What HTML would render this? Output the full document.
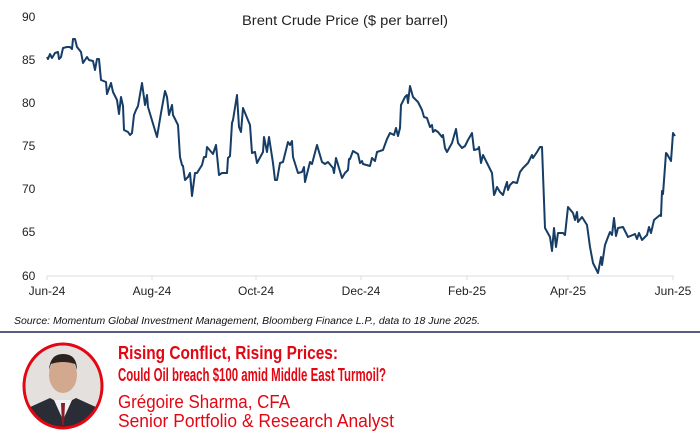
<!DOCTYPE html>
<html><head><meta charset="utf-8"><style>
html,body{margin:0;padding:0;background:#fff;}
svg{display:block;}
text{font-family:"Liberation Sans",sans-serif;}
</style></head><body>
<svg width="700" height="435" viewBox="0 0 700 435" xmlns="http://www.w3.org/2000/svg">
<rect width="700" height="435" fill="#fff"/>
<text x="345" y="25" font-size="13.5" text-anchor="middle" fill="#222" textLength="206" lengthAdjust="spacingAndGlyphs">Brent Crude Price ($ per barrel)</text>
<g font-size="12" fill="#222">
<text x="22" y="21">90</text>
<text x="22" y="64">85</text>
<text x="22" y="107">80</text>
<text x="22" y="150">75</text>
<text x="22" y="193">70</text>
<text x="22" y="236">65</text>
<text x="22" y="280">60</text>
</g>
<line x1="47" y1="276" x2="674" y2="276" stroke="#ddd" stroke-width="1"/>
<g stroke="#ddd" stroke-width="1">
<line x1="47" y1="276" x2="47" y2="280"/><line x1="152" y1="276" x2="152" y2="280"/><line x1="256" y1="276" x2="256" y2="280"/><line x1="361" y1="276" x2="361" y2="280"/><line x1="467" y1="276" x2="467" y2="280"/><line x1="568" y1="276" x2="568" y2="280"/><line x1="673" y1="276" x2="673" y2="280"/>
</g>
<g font-size="12" fill="#222" text-anchor="middle">
<text x="47" y="295">Jun-24</text><text x="152" y="295">Aug-24</text><text x="256" y="295">Oct-24</text><text x="361" y="295">Dec-24</text><text x="467" y="295">Feb-25</text><text x="568" y="295">Apr-25</text><text x="673" y="295">Jun-25</text>
</g>
<polyline fill="none" stroke="#163d66" stroke-width="2" stroke-linejoin="round" points="47,57 48,59 50,54 52,58 55,53 58,52 59,59 61,57 63,48 67,47 70,47 72,49 73,39 75,39 77,47 81,52 83,63 87,57 89,60 93,61 95,70 97,59 99,59 101,80 106,82 107,94 111,83 113,92 117,100 119,114 121,97 123,106 124,130 128,132 130,135 132,133 134,115 136,110 138,106 142,83 145,105 147,95 148,107 157,137 161,113 165,91 167,97 169,115 172,105 173,115 178,125 180,157 182,165 183,166 185,180 188,177 190,173 192,196 195,173 197,173 202,165 204,157 206,157 207,147 213,154 216,145 219,175 222,173 227,173 228,158 230,156 232,123 233,120 237,95 239,127 241,132 243,108 250,125 252,153 255,152 257,163 263,152 264,137 267,152 269,137 273,163 275,180 277,180 280,163 283,162 288,142 290,145 292,141 293,157 298,173 302,172 304,167 305,182 310,162 312,164 317,145 322,162 325,164 328,162 333,168 334,173 336,158 339,168 342,178 345,173 348,170 349,159 350,159 353,151 358,154 360,163 362,161 363,164 370,166 372,158 375,161 377,152 383,150 387,139 390,133 394,135 396,128 398,136 400,128 401,105 405,97 407,95 408,103 410,86 413,97 418,102 422,110 424,117 427,118 430,127 432,125 433,132 435,130 438,132 442,137 443,135 445,148 447,152 452,143 456,129 458,143 462,148 465,146 468,140 472,133 474,150 478,149 479,147 481,163 483,155 487,163 492,173 494,195 495,193 497,187 500,192 503,195 505,188 507,182 508,190 510,185 513,182 517,183 520,172 523,168 528,163 532,155 533,158 537,152 540,147 542,147 545,228 550,237 552,251 554,228 556,247 558,233 563,233 565,235 568,207 573,213 575,220 577,212 578,222 582,217 587,225 590,247 593,263 598,273 601,257 602,265 605,245 608,237 610,232 612,235 614,218 616,236 618,228 623,227 628,237 635,234 637,239 639,233 642,240 647,235 649,227 651,233 654,220 660,215 661,216 662,191 663,194 666,153 667,154 671,161 673,133 675,136"/>
<text x="14" y="324" font-size="10.5" font-style="italic" fill="#111" textLength="466" lengthAdjust="spacingAndGlyphs">Source: Momentum Global Investment Management, Bloomberg Finance L.P., data to 18 June 2025.</text>
<line x1="0" y1="332" x2="700" y2="332" stroke="#1f2a5a" stroke-width="1.5"/>
<defs><clipPath id="c"><ellipse cx="63" cy="386" rx="39" ry="42"/></clipPath></defs>
<g clip-path="url(#c)">
<rect x="20" y="340" width="90" height="95" fill="#e4e0dd"/>
<path d="M20,435 L28,408 L50,398 L63,405 L76,398 L98,408 L106,435Z" fill="#2a2d35"/>
<path d="M54,400 L63,420 L72,400Z" fill="#f2f2f2"/>
<path d="M61,403 L65,403 L64,425 L62,425Z" fill="#8a1d2a"/>
<ellipse cx="63" cy="375" rx="14" ry="18" fill="#d2a88e"/>
<path d="M49,370 Q50,354 63,354 Q77,354 77,370 L75,364 Q63,360 51,364Z" fill="#2b2320"/>
</g>
<ellipse cx="63" cy="386" rx="39" ry="42" fill="none" stroke="#e30613" stroke-width="3"/>
<g fill="#e30613">
<text x="118" y="359" font-size="18" font-weight="bold" textLength="220" lengthAdjust="spacingAndGlyphs">Rising Conflict, Rising Prices:</text>
<text x="118" y="381" font-size="18" font-weight="bold" textLength="268" lengthAdjust="spacingAndGlyphs">Could Oil breach $100 amid Middle East Turmoil?</text>
<text x="118" y="408" font-size="18" textLength="172" lengthAdjust="spacingAndGlyphs">Grégoire Sharma, CFA</text>
<text x="118" y="427" font-size="18" textLength="276" lengthAdjust="spacingAndGlyphs">Senior Portfolio &amp; Research Analyst</text>
</g>
</svg>
</body></html>
